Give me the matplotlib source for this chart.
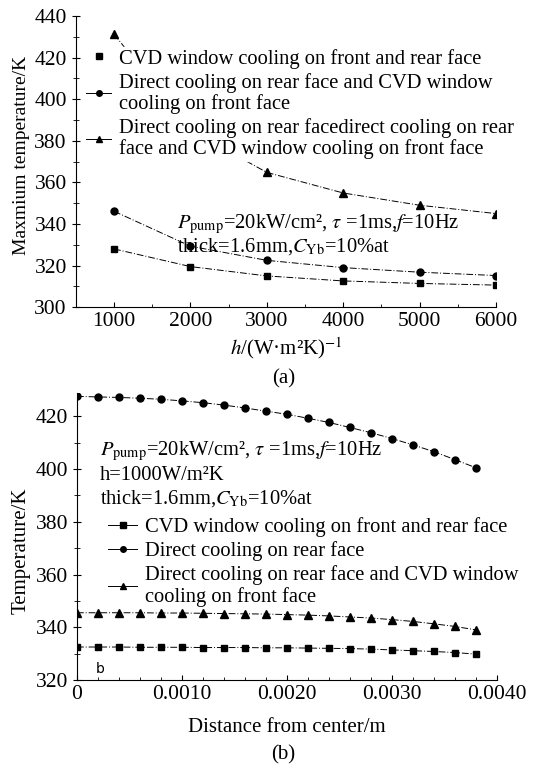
import matplotlib
matplotlib.use("Agg")
import matplotlib.pyplot as plt
from matplotlib.ticker import MultipleLocator
from matplotlib.lines import Line2D

plt.rcParams['font.family'] = ['Liberation Serif', 'DejaVu Serif']
plt.rcParams['mathtext.fontset'] = 'stix'

# <===== panel (a) data =====>
h_vals = [1000, 2000, 3000, 4000, 5000, 6000]
cvd_both = [328.0, 319.5, 315.0, 312.6, 311.4, 310.6]
direct_rear_cvd_front = [346.1, 329.3, 322.5, 319.0, 316.8, 315.2]
direct_rear_direct = [431.3, 385.0, 364.8, 354.9, 349.0, 345.0]

# <===== panel (b) data =====>
dist = [0.0000, 0.0002, 0.0004, 0.0006, 0.0008, 0.0010, 0.0012, 0.0014, 0.0016, 0.0018,
        0.0020, 0.0022, 0.0024, 0.0026, 0.0028, 0.0030, 0.0032, 0.0034, 0.0036, 0.0038]
b_cvd = [332.5, 332.5, 332.5, 332.4, 332.4, 332.4, 332.3, 332.3, 332.3, 332.2,
         332.2, 332.1, 332.0, 331.9, 331.7, 331.4, 331.1, 330.8, 330.4, 329.8]
b_direct = [427.6, 427.4, 427.2, 426.9, 426.5, 425.9, 425.2, 424.3, 423.2, 422.0,
            420.8, 419.3, 417.7, 415.8, 413.8, 411.6, 409.2, 406.6, 403.6, 400.5]
b_direct_cvd = [345.5, 345.5, 345.5, 345.5, 345.4, 345.4, 345.3, 345.2, 345.1, 345.0,
                344.8, 344.6, 344.3, 343.9, 343.5, 342.9, 342.2, 341.3, 340.3, 339.0]

lab_a = ["CVD window cooling on front and rear face",
         "Direct cooling on rear face and CVD window\ncooling on front face",
         "Direct cooling on rear facedirect cooling on rear\nface and CVD window cooling on front face"]
lab_b = ["CVD window cooling on front and rear face",
         "Direct cooling on rear face",
         "Direct cooling on rear face and CVD window\ncooling on front face"]

fig = plt.figure(figsize=(5.42, 7.64), dpi=100)
ls = (0, (7, 2, 1, 2))
lw = 0.7
fs_tick = 15.5
fs_lab = 15
fs_leg = 14.8

# <======= (a) =======>
ax1 = fig.add_axes([0.140, 0.598, 0.775, 0.381])
ax1.plot(h_vals, cvd_both, ls=ls, lw=lw, color='k', marker='s', ms=5)
ax1.plot(h_vals, direct_rear_cvd_front, ls=ls, lw=lw, color='k', marker='o', ms=5)
ax1.plot(h_vals, direct_rear_direct, ls=ls, lw=lw, color='k', marker='^', ms=6)
ax1.set_xlim(500, 6000)
ax1.set_ylim(300, 440)
ax1.xaxis.set_major_locator(MultipleLocator(1000))
ax1.xaxis.set_minor_locator(MultipleLocator(500))
ax1.yaxis.set_major_locator(MultipleLocator(20))
ax1.yaxis.set_minor_locator(MultipleLocator(10))
ax1.set_xlabel("$h$/(W·m²K)$^{-1}$", fontsize=fs_lab, labelpad=3)
ax1.set_ylabel("Maxmium temperature/K", fontsize=14)
ax1.yaxis.set_label_coords(-0.11, 0.52)
handles_a = [Line2D([], [], ls='none', color='k', marker='s', ms=4),
             Line2D([], [], ls='-', lw=lw, color='k', marker='o', ms=4),
             Line2D([], [], ls='-', lw=lw, color='k', marker='^', ms=4)]
leg_a = ax1.legend(handles_a, lab_a, loc='upper left', bbox_to_anchor=(0.02, 0.895),
                   fontsize=fs_leg, frameon=True, framealpha=1, edgecolor='white',
                   handlelength=1.2, handletextpad=0.4, borderpad=0.1,
                   labelspacing=0.2, borderaxespad=0)
for t in leg_a.get_texts():
    t.set_linespacing(1.1)
ax1.text(0.24, 0.325, "$P_{\\mathrm{pump}}$=20kW/cm², $\\tau$ =1ms,$f$=10Hz\n"
         "thick=1.6mm,$C_{\\mathrm{Yb}}$=10%at", transform=ax1.transAxes,
         fontsize=fs_leg, va='top', linespacing=1.0)
fig.text(0.523, 0.498, "(a)", ha='center', fontsize=fs_lab)

# <======= (b) =======>
ax2 = fig.add_axes([0.142, 0.110, 0.775, 0.376])
ax2.plot(dist, b_cvd, ls=ls, lw=lw, color='k', marker='s', ms=5)
ax2.plot(dist, b_direct, ls=ls, lw=lw, color='k', marker='o', ms=5)
ax2.plot(dist, b_direct_cvd, ls=ls, lw=lw, color='k', marker='^', ms=6)
ax2.set_xlim(0, 0.0040)
ax2.set_ylim(320, 429)
ax2.xaxis.set_minor_locator(MultipleLocator(0.0002))
ax2.set_xticks([0, 0.001, 0.002, 0.003, 0.004])
ax2.set_xticklabels(["0", "0.0010", "0.0020", "0.0030", "0.0040"])
ax2.yaxis.set_major_locator(MultipleLocator(20))
ax2.yaxis.set_minor_locator(MultipleLocator(10))
ax2.set_xlabel("Distance from center/m", fontsize=fs_lab, labelpad=10)
ax2.set_ylabel("Temperature/K", fontsize=fs_lab)
ax2.yaxis.set_label_coords(-0.11, 0.45)
handles_b = [Line2D([], [], ls='-', lw=lw, color='k', marker='s', ms=4),
             Line2D([], [], ls='-', lw=lw, color='k', marker='o', ms=4),
             Line2D([], [], ls='-', lw=lw, color='k', marker='^', ms=4)]
leg_b = ax2.legend(handles_b, lab_b, loc='upper left', bbox_to_anchor=(0.055, 0.595),
                   fontsize=fs_leg, frameon=False, handlelength=1.4, handletextpad=0.4,
                   labelspacing=0.2, borderaxespad=0)
for t in leg_b.get_texts():
    t.set_linespacing(1.1)
ax2.text(0.055, 0.835, "$P_{\\mathrm{pump}}$=20kW/cm², $\\tau$ =1ms,$f$=10Hz\n"
         "h=1000W/m²K\nthick=1.6mm,$C_{\\mathrm{Yb}}$=10%at", transform=ax2.transAxes,
         fontsize=fs_leg, va='top', linespacing=1.2)
ax2.text(0.045, 0.025, "b", transform=ax2.transAxes, fontsize=10, family='DejaVu Sans')
fig.text(0.523, 0.006, "(b)", ha='center', fontsize=fs_lab)

for ax in (ax1, ax2):
    ax.spines['top'].set_visible(False)
    ax.spines['right'].set_visible(False)
    ax.tick_params(axis='both', which='major', labelsize=fs_tick)
    ax.tick_params(axis='x', which='both', direction='in')
    ax.tick_params(axis='y', which='major', direction='inout', length=6)
    ax.tick_params(axis='y', which='minor', direction='inout', length=4)

fig.savefig("out.png", dpi=100)
